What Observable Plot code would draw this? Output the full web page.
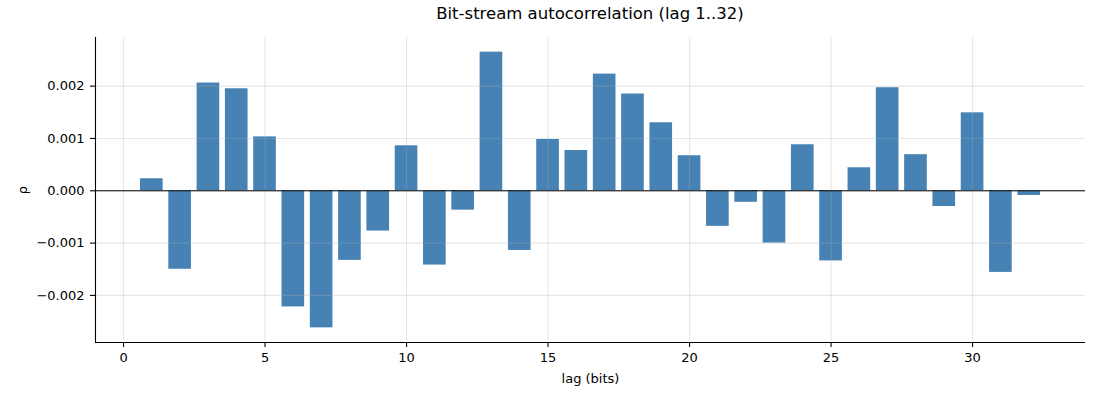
<!DOCTYPE html>
<html><head><meta charset="utf-8">
<script src="https://cdn.jsdelivr.net/npm/d3@7"></script>
<script src="https://cdn.jsdelivr.net/npm/@observablehq/plot@0.6"></script>
<style>
body{margin:0;background:#fff;font-family:"DejaVu Sans",sans-serif;}
#title{width:1100px;height:30px;position:relative;}
#title span{position:absolute;left:590px;top:13px;transform:translate(-50%,-50%);font-size:16.5px;color:#000;white-space:nowrap;}
</style></head><body>
<div id="title"><span>Bit-stream autocorrelation (lag 1..32)</span></div>
<div id="chart"></div>
<script>
const lags = [1,2,3,4,5,6,7,8,9,10,11,12,13,14,15,16,17,18,19,20,21,22,23,24,25,26,27,28,29,30,31,32];
const rho = [0.00023,-0.00150,0.00206,0.00195,0.00103,-0.00222,-0.00262,-0.00133,-0.00077,0.00086,-0.00142,-0.00037,
             0.00265,-0.00114,0.00098,0.00077,0.00223,0.00185,0.00130,0.00067,-0.00068,-0.00022,-0.00100,0.00088,
             -0.00134,0.00044,0.00197,0.00069,-0.00030,0.00149,-0.00156,-0.00009];
const xTicks = [0,5,10,15,20,25,30];
const yTicks = [-0.002,-0.001,0,0.001,0.002];
const xDomain = [-0.99, 33.99];
const yDomain = [-0.00290, 0.00293];

const data = lags.map((l,i)=>({lag:l, rho:rho[i]}));
const fmt = v => (v < 0 ? "\u2212" : "") + Math.abs(v).toFixed(3);
const gridColor = "rgba(176,176,176,0.3)";

const chart = Plot.plot({
  width: 1100, height: 370,
  marginTop: 7, marginBottom: 58, marginLeft: 95, marginRight: 15,
  style: {fontFamily: "DejaVu Sans, sans-serif", fontSize: "13px", color: "#000", background: "#fff"},
  x: {domain: xDomain},
  y: {domain: yDomain},
  marks: [
    Plot.rectY(data, {x1: d => d.lag - 0.4, x2: d => d.lag + 0.4, y1: 0, y2: "rho", fill: "#4682b4", inset: 0}),
    Plot.ruleX(xTicks, {stroke: gridColor, strokeWidth: 1.1}),
    Plot.ruleY(yTicks, {stroke: gridColor, strokeWidth: 1.1}),
    Plot.ruleY([0], {stroke: "#000", strokeWidth: 1}),
    Plot.ruleX([xDomain[0]], {stroke: "#000", strokeWidth: 1.1}),
    Plot.ruleY([yDomain[0]], {stroke: "#000", strokeWidth: 1.1}),
    Plot.axisX({ticks: xTicks, tickSize: 5, tickPadding: 5, tickFormat: d => String(d), stroke: "#000", strokeWidth: 1.1,
      label: "lag (bits)", labelAnchor: "center", labelArrow: "none", labelOffset: 40, fontSize: 13}),
    Plot.axisY({ticks: yTicks, tickSize: 5, tickPadding: 6, tickFormat: fmt, stroke: "#000", strokeWidth: 1.1,
      label: "ρ", labelAnchor: "center", labelArrow: "none", labelOffset: 78, fontSize: 13})
  ]
});
document.getElementById("chart").appendChild(chart);
</script>
</body></html>
